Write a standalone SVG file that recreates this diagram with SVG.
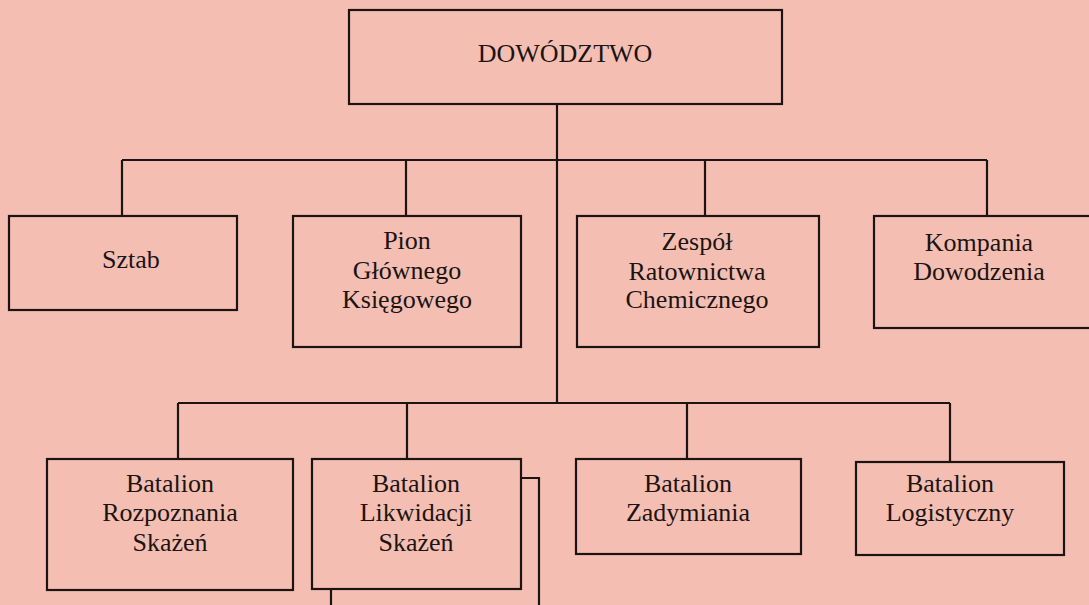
<svg xmlns="http://www.w3.org/2000/svg" width="1089" height="605" viewBox="0 0 1089 605">
<style>
.bg{fill:#f4bfb2}
.box{fill:none;stroke:#1c1412;stroke-width:2.2}
.ln{fill:none;stroke:#1c1412;stroke-width:2.2}
text{font-family:"Liberation Serif","Times New Roman",serif;font-size:26px;fill:#1c1412;text-anchor:middle}
</style>
<rect class="bg" x="0" y="0" width="1089" height="605"/>
<g id="connectors">
<path class="ln" d="M557,104 V403"/>
<path class="ln" d="M122,160 H987"/>
<path class="ln" d="M122,160 V216 M406,160 V216 M705,160 V216 M987,160 V216"/>
<path class="ln" d="M178,403 H950"/>
<path class="ln" d="M178,403 V459 M407,403 V459 M687,403 V459 M950,403 V462"/>
</g>
<g id="dowodztwo">
<rect class="box" x="349" y="10" width="433" height="94"/>
<text x="565" y="62">DOWÓDZTWO</text>
</g>
<g id="sztab">
<rect class="box" x="9" y="216" width="228" height="94"/>
<text x="131" y="268">Sztab</text>
</g>
<g id="pion">
<rect class="box" x="293" y="216" width="228" height="131"/>
<text x="407" y="249">Pion</text>
<text x="407" y="279">Głównego</text>
<text x="407" y="308">Księgowego</text>
</g>
<g id="zespol">
<rect class="box" x="577" y="216" width="242" height="131"/>
<text x="697" y="250">Zespół</text>
<text x="697" y="280">Ratownictwa</text>
<text x="697" y="308">Chemicznego</text>
</g>
<g id="kompania">
<rect class="box" x="874" y="216" width="225" height="112"/>
<text x="979" y="251">Kompania</text>
<text x="979" y="280">Dowodzenia</text>
</g>
<g id="rozpoznania">
<rect class="box" x="47" y="459" width="246" height="131"/>
<text x="170" y="492">Batalion</text>
<text x="170" y="521">Rozpoznania</text>
<text x="170" y="551">Skażeń</text>
</g>
<g id="likwidacji">
<path class="ln" d="M521,478 H539 V607 M331,589 V607"/>
<rect class="box" x="312" y="459" width="209" height="130"/>
<text x="416" y="492">Batalion</text>
<text x="416" y="521">Likwidacji</text>
<text x="416" y="551">Skażeń</text>
</g>
<g id="zadymiania">
<rect class="box" x="576" y="459" width="225" height="95"/>
<text x="688" y="492">Batalion</text>
<text x="688" y="521">Zadymiania</text>
</g>
<g id="logistyczny">
<rect class="box" x="856" y="462" width="208" height="93"/>
<text x="950" y="492">Batalion</text>
<text x="950" y="521">Logistyczny</text>
</g>
</svg>
